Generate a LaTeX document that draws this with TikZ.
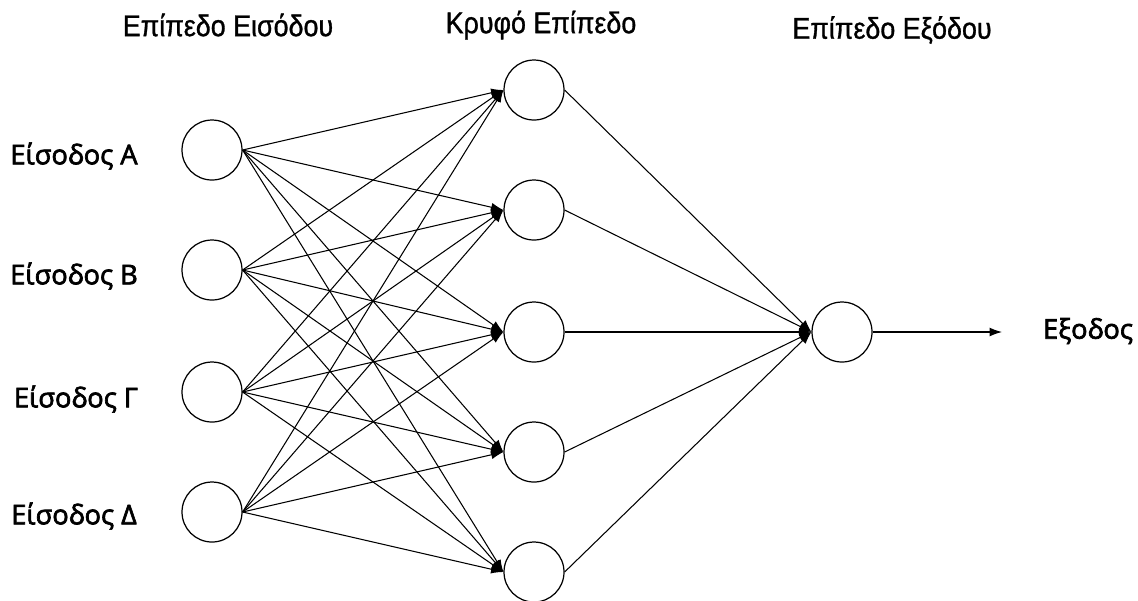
\documentclass[tikz,border=0pt]{standalone}
\usepackage{fontspec}
\setmainfont{Open Sans}
\newfontfamily\labfont[FakeBold=2.5]{Open Sans}
\newfontfamily\headfont[FakeStretch=0.9,FakeBold=1]{Liberation Sans}
\usetikzlibrary{arrows.meta}
\begin{document}
\begin{tikzpicture}[x=0.02cm,y=-0.02cm,
  neuron/.style={circle,draw,line width=0.7pt,minimum size=1.2cm,inner sep=0pt},
  conn/.style={line width=0.6pt,-{Latex[length=7pt,width=5pt]}},
  head/.style={font=\headfont\fontsize{17}{19}\selectfont},
  lab/.style={font=\labfont\fontsize{15.5}{17}\selectfont}]
\useasboundingbox (0,0) rectangle (1138,600);
\foreach \i/\y in {1/150,2/270,3/392,4/512}
  \node[neuron] (i\i) at (212,\y) {};
\foreach \j/\y in {1/90,2/210,3/332,4/452,5/572}
  \node[neuron] (h\j) at (534,\y) {};
\node[neuron] (o) at (842,332) {};
\coordinate (out) at (1002,332);
\node[head] (t1) at (228,25) {Επίπεδο Εισόδου};
\node[head] (t2) at (541,25) {Κρυφό Επίπεδο};
\node[head] (t3) at (892,30) {Επίπεδο Εξόδου};
\node[lab] (la) at (74,156) {Είσοδος Α};
\node[lab] (lb) at (74,276) {Είσοδος Β};
\node[lab] (lc) at (76,399) {Είσοδος Γ};
\node[lab] (ld) at (74,516) {Είσοδος Δ};
\node[lab] (lo) at (1088,331) {Εξοδος};
\foreach \i in {1,...,4}
  \foreach \j in {1,...,5}
    \draw[conn] (i\i.east) -- (h\j.west);
\foreach \j in {1,...,5}
  \draw[conn] (h\j.east) -- (o.west);
\draw[conn] (o.east) -- (out);
\end{tikzpicture}
\end{document}
